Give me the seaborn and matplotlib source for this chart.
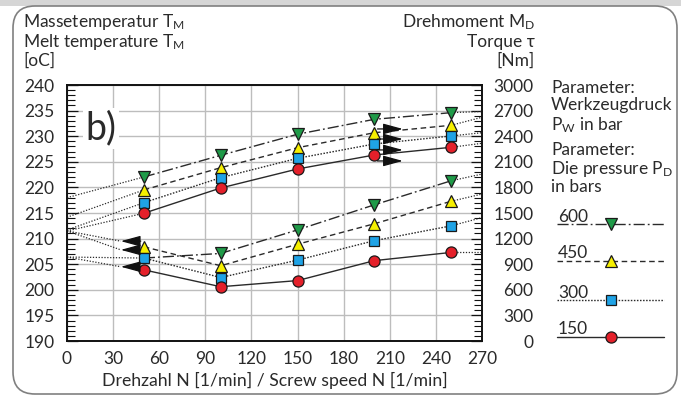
import matplotlib
matplotlib.use("Agg")
import matplotlib.pyplot as plt
import seaborn as sns
import pandas as pd
from matplotlib.patches import FancyBboxPatch, Rectangle
from matplotlib.lines import Line2D
from matplotlib.ticker import MultipleLocator

# ---------------- data ----------------
speed = [50, 100, 150, 200, 250]          # screw speed N [1/min]
params = [600, 450, 300, 150]             # pressure parameter [bar]

# upper curve family -> torque (right axis) [Nm]
torque_600 = [1922, 2176, 2423, 2598, 2676]
torque_450 = [1770, 2031, 2265, 2441, 2528]
torque_300 = [1621, 1914, 2141, 2309, 2403]
torque_150 = [1497, 1793, 2016, 2180, 2270]
torque_at_0 = [1680, 1450, 1301, 1289]      # dotted extrapolation to N=0
torque_at_270 = [2690, 2622, 2441, 2317]    # dotted extrapolation to N=270

# lower curve family -> melt temperature (left axis) [oC]
temp_600 = [206.2, 207.1, 211.7, 216.6, 221.3]
temp_450 = [208.4, 204.7, 208.9, 212.9, 217.3]
temp_300 = [206.2, 202.4, 205.8, 209.6, 212.5]
temp_150 = [203.9, 200.6, 201.8, 205.7, 207.3]
temp_at_0 = [206.4, 211.5, 211.5, 206.4]
temp_at_270 = [222.6, 218.7, 214.1, 207.3]

# arrows (pointing to the axis to read)
arrow_torque_y = [2485, 2367, 2239, 2110]
arrow_temp_y = [209.5, 207.8, 204.5]

x_ticks = [0, 30, 60, 90, 120, 150, 180, 210, 240, 270]
temp_ticks = [190, 195, 200, 205, 210, 215, 220, 225, 230, 235, 240]
torque_ticks = [0, 300, 600, 900, 1200, 1500, 1800, 2100, 2400, 2700, 3000]

# ---------------- style ----------------
sns.set_theme(style="white")
plt.rcParams["font.family"] = ["Lato", "DejaVu Sans"]
plt.rcParams["mathtext.fontset"] = "custom"
plt.rcParams["mathtext.rm"] = "Lato"
plt.rcParams["mathtext.it"] = "Lato:italic"
TXT = "#2a2a2a"

colors = {600: "#1f9a48", 450: "#f6ef00", 300: "#1fa3e6", 150: "#e4202a"}
markers = {600: "v", 450: "^", 300: "s", 150: "o"}
styles = {600: (0, (8, 2.2, 1.3, 2.2)), 450: (0, (4, 2.6)), 300: (0, (1.1, 1.1)), 150: "-"}
msize = {600: 8.5, 450: 8.5, 300: 7.2, 150: 8}
LINEC = "#2a2a2a"
DOT = (0, (1, 1.3))

W, H = 681, 398
fig = plt.figure(figsize=(W / 100, H / 100), dpi=100)
fig.patch.set_facecolor("white")

# background / frame overlay in pixel coordinates
bg = fig.add_axes([0, 0, 1, 1], zorder=-5)
bg.set_xlim(0, W)
bg.set_ylim(H, 0)
bg.axis("off")
bg.add_patch(Rectangle((0, 0), W, 6, color="#d6d6d6", lw=0))
bg.add_patch(FancyBboxPatch((13, 6), 664, 388, boxstyle="round,pad=0,rounding_size=22",
                            fc="white", ec="#808080", lw=1.2))

# main axes
L, R, T, B = 67, 482, 85, 341
ax = fig.add_axes([L / W, 1 - B / H, (R - L) / W, (B - T) / H])
ax2 = ax.twinx()

ax.set_xlim(0, 270)
ax.set_ylim(190, 240)
ax2.set_ylim(0, 3000)
ax.set_xticks(x_ticks)
ax.set_yticks(temp_ticks)
ax2.set_yticks(torque_ticks)
ax.yaxis.set_minor_locator(MultipleLocator(1))
ax2.yaxis.set_minor_locator(MultipleLocator(60))
ax.grid(True, which="major", color="#bdbdbd", lw=1.0)
ax.set_axisbelow(True)
for a in (ax, ax2):
    for s in a.spines.values():
        s.set_color("#111111")
        s.set_linewidth(1.2)
ax.tick_params(axis="x", length=0, pad=7, labelsize=12.5, labelcolor=TXT)
ax.tick_params(axis="y", which="major", direction="in", length=8, width=0.9,
               pad=9, labelsize=12.5, labelcolor=TXT, color="#111111")
ax.tick_params(axis="y", which="minor", direction="in", length=6, width=0.8, color="#111111")
ax2.tick_params(axis="y", which="major", direction="in", length=8, width=0.9,
                pad=37, labelsize=12.5, labelcolor=TXT, color="#111111")
ax2.tick_params(axis="y", which="minor", direction="in", length=6, width=0.8, color="#111111")
for lab in ax2.get_yticklabels():
    lab.set_horizontalalignment("right")
ax.set_xlabel("Drehzahl N [1/min] / Screw speed N [1/min]", fontsize=12.7, color=TXT, labelpad=4)
ax.set_ylabel("")
ax2.set_ylabel("")

torque = {600: torque_600, 450: torque_450, 300: torque_300, 150: torque_150}
temp = {600: temp_600, 450: temp_450, 300: temp_300, 150: temp_150}

# dotted extrapolations
for i, p in enumerate(params):
    sns.lineplot(x=[0, speed[0]], y=[torque_at_0[i], torque[p][0]], ax=ax2,
                 color=LINEC, lw=0.9, linestyle=DOT)
    sns.lineplot(x=[speed[-1], 270], y=[torque[p][-1], torque_at_270[i]], ax=ax2,
                 color=LINEC, lw=0.9, linestyle=DOT)
    sns.lineplot(x=[speed[-1], 270], y=[temp[p][-1], temp_at_270[i]], ax=ax,
                 color=LINEC, lw=0.9, linestyle=DOT)

arrow_tip_n, arrow_tail_n = 35, 48
lower_left_end = {600: (speed[0], temp_600[0]), 450: (arrow_tip_n, arrow_temp_y[0]),
                  300: (arrow_tip_n, arrow_temp_y[1]), 150: (arrow_tip_n, arrow_temp_y[2])}
for i, p in enumerate(params):
    ex, ey = lower_left_end[p]
    sns.lineplot(x=[0, ex], y=[temp_at_0[i], ey], ax=ax, color=LINEC, lw=0.9, linestyle=DOT)

# arrows
aprops = dict(arrowstyle="-|>,head_length=1.1,head_width=0.3", color="#111111",
              lw=0.9, mutation_scale=11, shrinkA=0, shrinkB=0)
for yv in arrow_torque_y:
    ax2.annotate("", xy=(218.5, yv), xytext=(202, yv), arrowprops=aprops)
# small connector from the 150 bar marker down to the lowest arrow
sns.lineplot(x=[202, 202], y=[torque_150[3], arrow_torque_y[-1]], ax=ax2, color="#111111", lw=0.9)
for yv in arrow_temp_y:
    ax.annotate("", xy=(arrow_tip_n, yv), xytext=(arrow_tail_n, yv), arrowprops=aprops)

# main curves
for p in params:
    kw = dict(color=LINEC, lw=1.0, linestyle=styles[p], marker=markers[p],
              markersize=msize[p], markerfacecolor=colors[p], markeredgecolor="#1a1a1a",
              markeredgewidth=0.9)
    sns.lineplot(x=speed, y=torque[p], ax=ax2, **kw)
    kw2 = dict(kw)
    if p == 600:
        kw2["markevery"] = [1, 2, 3, 4]
    sns.lineplot(x=speed, y=temp[p], ax=ax, **kw2)

ax.text(22, 231.5, "b)", fontsize=27, color=TXT, ha="center", va="center",
        bbox=dict(fc="white", ec="none", pad=1.5), zorder=5)

# titles
fs = 12.5
bg.text(23, 27, r"Massetemperatur T$_\mathrm{M}$", fontsize=fs, color=TXT, va="baseline")
bg.text(23, 47, r"Melt temperature T$_\mathrm{M}$", fontsize=fs, color=TXT, va="baseline")
bg.text(23, 66, "[oC]", fontsize=fs, color=TXT, va="baseline")
bg.text(535, 27, r"Drehmoment M$_\mathrm{D}$", fontsize=fs, color=TXT, va="baseline", ha="right")
bg.text(535, 47, "Torque τ", fontsize=fs, color=TXT, va="baseline", ha="right")
bg.text(535, 66, "[Nm]", fontsize=fs, color=TXT, va="baseline", ha="right")

# legend block
lx = 551
for yb, s in [(93, "Parameter:"), (110, "Werkzeugdruck"), (130, r"P$_\mathrm{W}$ in bar"),
              (155, "Parameter:"), (174, r"Die pressure P$_\mathrm{D}$"), (192, "in bars")]:
    bg.text(lx, yb, s, fontsize=fs, color=TXT, va="baseline")

for p, yl in zip(params, [224, 261, 300, 337]):
    bg.text(558, yl - 2.5, str(p), fontsize=fs, color=TXT, va="baseline")
    bg.add_line(Line2D([557, 664], [yl, yl], color=LINEC, lw=1.0, linestyle=styles[p]))
    bg.add_line(Line2D([611], [yl], marker=markers[p], markersize=msize[p],
                       markerfacecolor=colors[p], markeredgecolor="#1a1a1a",
                       markeredgewidth=0.9, linestyle="none"))

fig.savefig("out.png", dpi=100)
